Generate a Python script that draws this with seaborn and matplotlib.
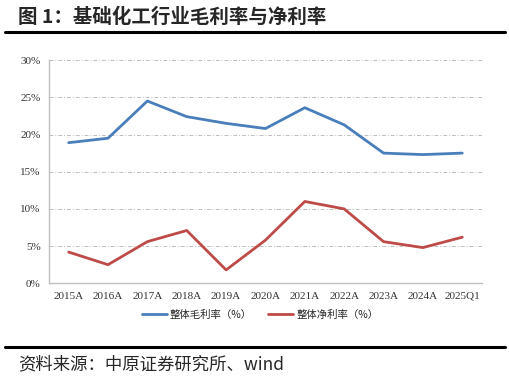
import pandas as pd
import matplotlib
matplotlib.use('Agg')
import matplotlib.pyplot as plt
from matplotlib.lines import Line2D
from matplotlib.ticker import FuncFormatter
import seaborn as sns

# 数据
periods = ['2015A', '2016A', '2017A', '2018A', '2019A', '2020A',
           '2021A', '2022A', '2023A', '2024A', '2025Q1']
gross_margin = [18.9, 19.5, 24.5, 22.4, 21.5, 20.8, 23.6, 21.3, 17.5, 17.3, 17.5]
net_margin = [4.2, 2.5, 5.6, 7.1, 1.8, 5.8, 11.0, 10.0, 5.6, 4.8, 6.2]
series_names = ['整体毛利率（%）', '整体净利率（%）']
series_colors = ['#4A7EBB', '#BE4B48']

df = pd.DataFrame({
    'period': periods * 2,
    'value': gross_margin + net_margin,
    'series': [series_names[0]] * len(periods) + [series_names[1]] * len(periods),
})

sns.set_style('white')
cjk = ['Noto Sans CJK SC', 'DejaVu Sans']
plt.rcParams['font.family'] = cjk

fig = plt.figure(figsize=(5.1, 3.78), dpi=100)
ax = fig.add_axes([0.096, 0.2505, 0.849, 0.5905])

sns.lineplot(data=df, x='period', y='value', hue='series',
             palette=series_colors, linewidth=2.0, ax=ax, legend=False)

ax.set_xlim(-0.5, len(periods) - 0.5)
ax.set_ylim(0, 30)
ax.set_yticks(range(0, 31, 5))
ax.yaxis.set_major_formatter(FuncFormatter(lambda v, p: f'{v:.0f}%'))
ax.set_xlabel('')
ax.set_ylabel('')

for lab in ax.get_xticklabels() + ax.get_yticklabels():
    lab.set_fontfamily('Liberation Serif')
    lab.set_fontsize(8)
    lab.set_color('#333333')
ax.tick_params(axis='both', length=0, pad=6)

# 网格线（点划线）
ax.yaxis.grid(True, color='#BFBFBF', linewidth=0.7, linestyle=(0, (4, 2, 1, 2)))
ax.xaxis.grid(False)
ax.set_axisbelow(True)
for side in ['top', 'right']:
    ax.spines[side].set_visible(False)
for side in ['left', 'bottom']:
    ax.spines[side].set_color('#BFBFBF')
    ax.spines[side].set_linewidth(1.0)

# 图例
handles = [Line2D([0], [0], color=c, linewidth=2.0) for c in series_colors]
fig.legend(handles, series_names, loc='center', bbox_to_anchor=(0.51, 0.167),
           ncol=2, frameon=False, handlelength=2.4, handletextpad=0.3,
           columnspacing=1.6, prop={'family': cjk, 'size': 7.5})

# 标题与来源
fig.text(0.035, 0.955, '图 1：基础化工行业毛利率与净利率', fontsize=14,
         fontweight='bold', va='center', ha='left', family=cjk)
fig.add_artist(Line2D([0.01, 0.99], [0.916, 0.916], color='black', linewidth=2.2))
fig.add_artist(Line2D([0.01, 0.99], [0.082, 0.082], color='black', linewidth=2.2))
fig.text(0.035, 0.035, '资料来源：中原证券研究所、wind', fontsize=12.5,
         va='center', ha='left', family=cjk)

fig.savefig('out.png', dpi=100)
